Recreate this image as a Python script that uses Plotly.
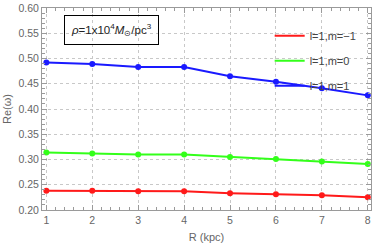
import plotly.graph_objects as go

R = [1, 2, 3, 4, 5, 6, 7, 8]
m_minus1 = [0.238, 0.238, 0.237, 0.237, 0.233, 0.231, 0.229, 0.225]
m_0 = [0.314, 0.312, 0.310, 0.310, 0.305, 0.301, 0.296, 0.291]
m_plus1 = [0.492, 0.489, 0.483, 0.483, 0.465, 0.454, 0.441, 0.427]
y_ticks = [0.20, 0.25, 0.30, 0.35, 0.40, 0.45, 0.50, 0.55, 0.60]
y_ticklabels = ["0.20", "0.25", "0.30", "0.35", "0.40", "0.45", "0.50", "0.55", "0.60"]
names = ["l=1,m=\u22121", "l=1,m=0", "l=1,m=1"]
colors = ["#ff1a1a", "#33ff1a", "#1a1aff"]
series = [m_minus1, m_0, m_plus1]

fig = go.Figure()
for ys, c, n in zip(series, colors, names):
    fig.add_trace(go.Scatter(x=R, y=ys, mode="lines+markers",
                             line=dict(color=c, width=2),
                             marker=dict(color=c, size=6),
                             showlegend=False))
for c, n in zip(colors, names):
    fig.add_trace(go.Scatter(x=[None], y=[None], mode="lines", name=n,
                             legendgroup=n,
                             line=dict(color=c, width=2)))

font_family = "Liberation Sans, Arial"
axis_common = dict(
    showline=True, linecolor="#9a9a9a", linewidth=1, mirror="allticks",
    ticks="inside", tickcolor="#9a9a9a", ticklen=5,
    showgrid=True, gridcolor="#c8c8c8", griddash="dot", gridwidth=1,
    zeroline=False, ticklabeloverflow="allow",
    tickfont=dict(family=font_family, size=10.5, color="#666666"),
)

fig.update_xaxes(range=[0.905, 8.07], tickvals=R,
                 minor=dict(dtick=0.2, tick0=0, ticks="inside", ticklen=3, tickcolor="#9a9a9a", showgrid=False),
                 title=dict(text="R (kpc)", font=dict(family=font_family, size=11, color="#666666"), standoff=8),
                 **axis_common)
fig.update_yaxes(range=[0.1999, 0.6001], tickvals=y_ticks, ticktext=y_ticklabels,
                 minor=dict(dtick=0.01, tick0=0.2, ticks="inside", ticklen=3, tickcolor="#9a9a9a", showgrid=False),
                 title=dict(text="Re(\u03c9)", font=dict(family=font_family, size=11, color="#666666"), standoff=4),
                 **axis_common)

fig.add_annotation(
    xref="paper", yref="paper", x=0.067, y=0.965, xanchor="left", yanchor="top",
    text="<i>\u03c1</i>=1x10<sup>4</sup><i>M</i><sub>\u2299</sub>/pc<sup>3</sup>",
    showarrow=False, bordercolor="black", borderwidth=1, borderpad=6,
    bgcolor="rgba(0,0,0,0)",
    font=dict(family=font_family, size=11.5, color="#222222"),
)

fig.update_layout(
    width=374, height=246,
    margin=dict(l=42, r=2, t=6, b=36),
    paper_bgcolor="white", plot_bgcolor="white",
    legend=dict(x=0.692, y=0.935, xanchor="left", yanchor="top",
                bgcolor="rgba(0,0,0,0)", tracegroupgap=6,
                font=dict(family=font_family, size=11, color="#444444")),
)

fig.write_html("out.html", config={"displayModeBar": False})
with open("out.html", "r", encoding="utf-8") as f:
    html = f.read()
html = html.replace("<head>", "<head><style>html,body{margin:0;padding:0;overflow:hidden;}</style>", 1)
with open("out.html", "w", encoding="utf-8") as f:
    f.write(html)
